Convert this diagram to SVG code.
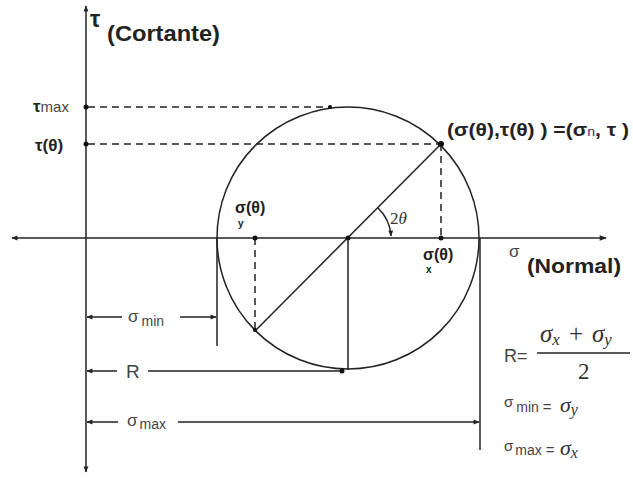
<svg xmlns="http://www.w3.org/2000/svg" width="633" height="481" viewBox="0 0 633 481">
<defs>
<marker id="ah" viewBox="0 0 10 10" refX="9" refY="5" markerWidth="7" markerHeight="6" orient="auto-start-reverse" markerUnits="userSpaceOnUse">
<path d="M0,1 L10,5 L0,9 z" fill="#222"/>
</marker>
<marker id="ah2" viewBox="0 0 10 10" refX="9" refY="5" markerWidth="9" markerHeight="7" orient="auto-start-reverse" markerUnits="userSpaceOnUse">
<path d="M0,1 L10,5 L0,9 z" fill="#222"/>
</marker>
</defs>
<style>
.ln{stroke:#222;stroke-width:1.5;fill:none}
.ds{stroke:#222;stroke-width:1.5;fill:none;stroke-dasharray:7,5}
.dot{fill:#111}
.b{font-family:"Liberation Sans",Arial,sans-serif;font-weight:bold;fill:#222}
.r{font-family:"Liberation Sans",Arial,sans-serif;fill:#444}
.m{font-family:"Liberation Serif","Times New Roman",serif;font-style:italic;fill:#333}
.u{font-family:"Liberation Serif","Times New Roman",serif;fill:#333}
</style>
<rect width="633" height="481" fill="#fff"/>
<g id="connectors">
<line class="ln" x1="86" y1="472" x2="86" y2="6" marker-end="url(#ah)" marker-start="url(#ah)"/>
<line class="ln" x1="12" y1="238" x2="606" y2="238" marker-end="url(#ah2)" marker-start="url(#ah)"/>
<circle class="ln" cx="348" cy="238" r="131"/>
<line class="ds" x1="88" y1="107" x2="330" y2="107"/>
<line class="ds" x1="88" y1="144" x2="441" y2="144"/>
<line class="ds" x1="441" y1="144" x2="441" y2="238"/>
<line class="ds" x1="255" y1="238" x2="255" y2="330"/>
<line class="ln" x1="255" y1="331" x2="441" y2="144"/>
<line class="ln" x1="348" y1="238" x2="348" y2="370"/>
<line class="ln" x1="217" y1="238" x2="217" y2="346"/>
<line class="ln" x1="480" y1="238" x2="480" y2="450"/>
<path class="ln" d="M378,208 A42,42 0 0 1 391,236" marker-end="url(#ah)"/>
<line class="ln" x1="87" y1="317" x2="122" y2="317" marker-start="url(#ah)"/>
<line class="ln" x1="180" y1="317" x2="216" y2="317" marker-end="url(#ah)"/>
<line class="ln" x1="87" y1="371" x2="117" y2="371" marker-start="url(#ah)"/>
<line class="ln" x1="148" y1="371" x2="342" y2="371"/>
<line class="ln" x1="87" y1="422" x2="118" y2="422" marker-start="url(#ah)"/>
<line class="ln" x1="178" y1="422" x2="479" y2="422" marker-end="url(#ah)"/>
</g>
<g id="points">
<circle class="dot" cx="86" cy="107" r="2.5"/>
<circle class="dot" cx="86" cy="144" r="2.5"/>
<circle class="dot" cx="330" cy="107" r="2"/>
<circle class="dot" cx="441" cy="144" r="3"/>
<circle class="dot" cx="441" cy="238" r="2.5"/>
<circle class="dot" cx="255" cy="238" r="2.5"/>
<circle class="dot" cx="348" cy="238" r="2.5"/>
<circle class="dot" cx="255" cy="330" r="2"/>
<circle class="dot" cx="342" cy="371" r="2.5"/>
</g>
<g id="tau-axis-label">
<text class="b" x="90" y="27" font-size="23">τ</text>
<text class="b" x="107" y="41" font-size="22" textLength="113" lengthAdjust="spacingAndGlyphs">(Cortante)</text>
</g>
<g id="sigma-axis-label">
<text class="r" x="509" y="257" font-size="17">σ</text>
<text class="b" x="527" y="273" font-size="21" textLength="94" lengthAdjust="spacingAndGlyphs">(Normal)</text>
</g>
<g id="tau-max">
<text class="b" x="33" y="112" font-size="17">τ<tspan class="r" font-weight="normal" font-size="15" fill="#666">max</tspan></text>
</g>
<g id="tau-theta">
<text class="b" x="35" y="151" font-size="17">τ(θ)</text>
</g>
<g id="sigma-y-theta">
<text class="b" x="235" y="213" font-size="16">σ(θ)</text>
<text class="b" x="238" y="227" font-size="10">y</text>
</g>
<g id="sigma-x-theta">
<text class="b" x="423" y="260" font-size="16">σ(θ)</text>
<text class="b" x="426" y="273" font-size="10">x</text>
</g>
<g id="point-label">
<text class="b" x="447" y="136" font-size="18" textLength="182" lengthAdjust="spacingAndGlyphs">(σ(θ),τ(θ) ) =(σ<tspan font-size="12" font-weight="normal" fill="#336">n</tspan>, τ )</text>
</g>
<g id="angle-label">
<text class="u" x="390" y="224" font-size="17">2<tspan style="font-style:italic">θ</tspan></text>
</g>
<g id="dim-labels">
<text class="r" x="128" y="322" font-size="17">σ<tspan font-size="14" dx="3" dy="4">min</tspan></text>
<text class="r" x="126" y="378" font-size="19">R</text>
<text class="r" x="127" y="426" font-size="17">σ<tspan font-size="14" dx="2" dy="3">max</tspan></text>
</g>
<g id="formulas">
<text class="r" x="504" y="362" font-size="18" fill="#222">R=</text>
<text class="m" x="540" y="342" font-size="25">σ<tspan font-size="17" dy="3">x</tspan><tspan style="font-style:normal" dx="9" dy="-3">+</tspan><tspan dx="9">σ</tspan><tspan font-size="17" dy="3">y</tspan></text>
<line x1="537" y1="353" x2="630" y2="353" stroke="#222" stroke-width="1.5"/>
<text class="u" x="578" y="379" font-size="23">2</text>
<text class="r" x="504" y="407" font-size="15">σ<tspan font-size="14" dx="3" dy="5">min</tspan><tspan dx="4" font-size="15">=</tspan></text>
<text class="m" x="560" y="412" font-size="22">σ<tspan font-size="16" dy="3">y</tspan></text>
<text class="r" x="504" y="451" font-size="15">σ<tspan font-size="14" dx="2" dy="4">max</tspan><tspan dx="4" font-size="15">=</tspan></text>
<text class="m" x="560" y="455" font-size="22">σ<tspan font-size="16" dy="3">x</tspan></text>
</g>
</svg>
